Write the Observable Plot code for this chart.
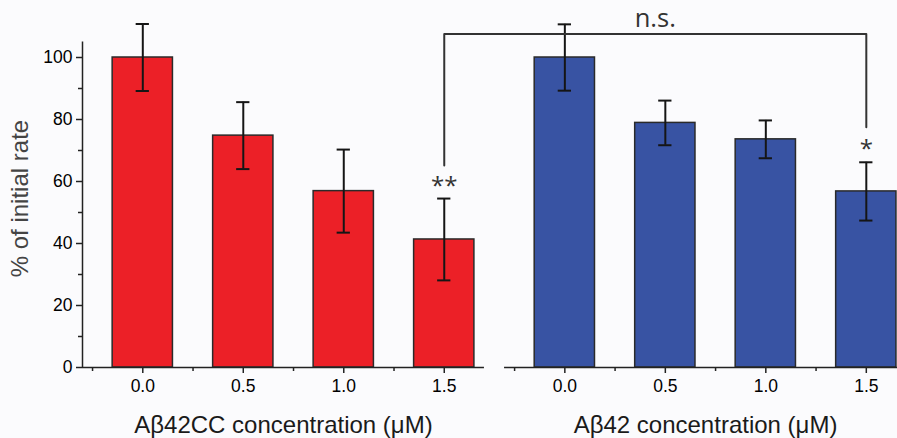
<!DOCTYPE html>
<html><head><meta charset="utf-8">
<script src="https://cdn.jsdelivr.net/npm/d3@7"></script>
<script src="https://cdn.jsdelivr.net/npm/@observablehq/plot@0.6"></script>
<style>
html,body{margin:0;padding:0;background:#fbfbfd;overflow:hidden}
#chart svg{display:block}
</style>
</head><body><div id="chart"></div>
<script>
// ---- data ----
const concentrations = [0, 0.5, 1.0, 1.5];
const tickLabels = ["0.0", "0.5", "1.0", "1.5"];
const cc42Means = [100, 74.8, 56.9, 41.3];
const cc42Errors = [10.8, 10.8, 13.4, 13.2];
const ab42Means = [100, 78.9, 73.6, 56.8];
const ab42Errors = [10.7, 7.2, 6.1, 9.4];
const panelTitles = ["Aβ42CC concentration (μM)", "Aβ42 concentration (μM)"];
const panelOffsets = [0, 2.1];
const panelColors = ["#ec2027", "#3853a3"];
const starLabels = ["**", "*"];
const starValues = [59.7, 71.6];
const bracketLegEnds = [65.2, 77.5];
const bracketTop = 107.6;
const bracketLabel = "n.s.";
const yTicks = [0, 20, 40, 60, 80, 100];
const yMinorTicks = [10, 30, 50, 70, 90];
const xMinorTicks = [-0.25, 0.25, 0.75, 1.25];
const panelExtent = [-0.3, 1.7];
const yLabel = "% of initial rate";

// ---- derived tables ----
const meansByPanel = [cc42Means, ab42Means];
const errsByPanel = [cc42Errors, ab42Errors];
const rows = panelOffsets.flatMap((off, p) => concentrations.map((c, i) => ({
  panel: p, pos: off + c, label: tickLabels[i],
  mean: meansByPanel[p][i], lo: meansByPanel[p][i] - errsByPanel[p][i], hi: meansByPanel[p][i] + errsByPanel[p][i]
})));
const labelByPos = new Map(rows.map(d => [d.pos, d.label]));
const halfBar = 0.15, halfCap = 0.033;
const last = concentrations.length - 1;
const stars = starLabels.map((s, p) => ({text: s, x: panelOffsets[p] + concentrations[last], y: starValues[p]}));
const bracket = [
  {x: panelOffsets[0] + concentrations[last], y: bracketLegEnds[0]},
  {x: panelOffsets[0] + concentrations[last], y: bracketTop},
  {x: panelOffsets[1] + concentrations[last], y: bracketTop},
  {x: panelOffsets[1] + concentrations[last], y: bracketLegEnds[1]}
];
const minorTicks = panelOffsets.flatMap(o => xMinorTicks.map(c => o + c));
const titles = panelTitles.map((t, p) => ({text: t, x: panelOffsets[p] + (panelExtent[0] + panelExtent[1]) / 2}));
const axisSegs = panelOffsets.map(o => ({x1: o + panelExtent[0], x2: o + panelExtent[1]}));

const plot = Plot.plot({
  width: 897, height: 438,
  marginLeft: 82, marginRight: 0, marginTop: 41.5, marginBottom: 71,
  style: {fontFamily: "'Liberation Sans', Arial, sans-serif", background: "transparent", overflow: "hidden"},
  x: {domain: [panelExtent[0], panelOffsets[1] + panelExtent[1]], range: [82, 906]},
  y: {domain: [0, 105], range: [367, 41.5]},
  marks: [
    Plot.rectY(rows, {x1: d => d.pos - halfBar, x2: d => d.pos + halfBar, y1: 0, y2: "mean", fill: d => panelColors[d.panel], stroke: "#2a2a2a", strokeWidth: 1.5}),
    Plot.ruleX(rows, {x: "pos", y1: "lo", y2: "hi", stroke: "#151515", strokeWidth: 2}),
    Plot.ruleY(rows, {y: "hi", x1: d => d.pos - halfCap, x2: d => d.pos + halfCap, stroke: "#151515", strokeWidth: 2}),
    Plot.ruleY(rows, {y: "lo", x1: d => d.pos - halfCap, x2: d => d.pos + halfCap, stroke: "#151515", strokeWidth: 2}),
    // axis lines
    Plot.ruleY(axisSegs, {y: 0, x1: "x1", x2: "x2", stroke: "#222", strokeWidth: 1.5}),
    Plot.ruleX([panelExtent[0]], {y1: 0, y2: 105, stroke: "#222", strokeWidth: 1.5}),
    Plot.axisY({ticks: yTicks, tickSize: 6, tickPadding: 4, fontSize: 17.5, stroke: "#222", strokeWidth: 1.5, fill: "#000", label: null}),
    Plot.axisY({ticks: yMinorTicks, tickSize: 4, tickFormat: () => "", stroke: "#222", strokeWidth: 1.5, label: null}),
    Plot.axisX({ticks: rows.map(d => d.pos), tickSize: 6, tickPadding: 6, fontSize: 17.5, stroke: "#222", strokeWidth: 1.5, fill: "#000", label: null,
      tickFormat: d => labelByPos.get(d)}),
    Plot.axisX({ticks: minorTicks, tickSize: 4, tickFormat: () => "", stroke: "#222", strokeWidth: 1.5, label: null}),
    // titles
    Plot.text(titles, {x: "x", y: 0, text: "text", dy: 58, fontSize: 24, fill: "#1a1a1a"}),
    Plot.text([yLabel], {x: panelExtent[0], y: 54.5, dx: -62, rotate: -90, fontSize: 24, fill: "#444"}),
    // significance
    Plot.line(bracket, {x: "x", y: "y", stroke: "#333", strokeWidth: 2}),
    Plot.text([bracketLabel], {x: (bracket[1].x + bracket[2].x) / 2, y: bracketTop, dy: -15.5, fontSize: 25.5, fontFamily: "'Open Sans', sans-serif", fill: "#333"}),
    Plot.text(stars, {x: "x", y: "y", text: "text", dy: 4, fontSize: 24, fontFamily: "'Open Sans', sans-serif", fill: "#333"})
  ]
});
document.getElementById("chart").appendChild(plot);
</script>
</body></html>
